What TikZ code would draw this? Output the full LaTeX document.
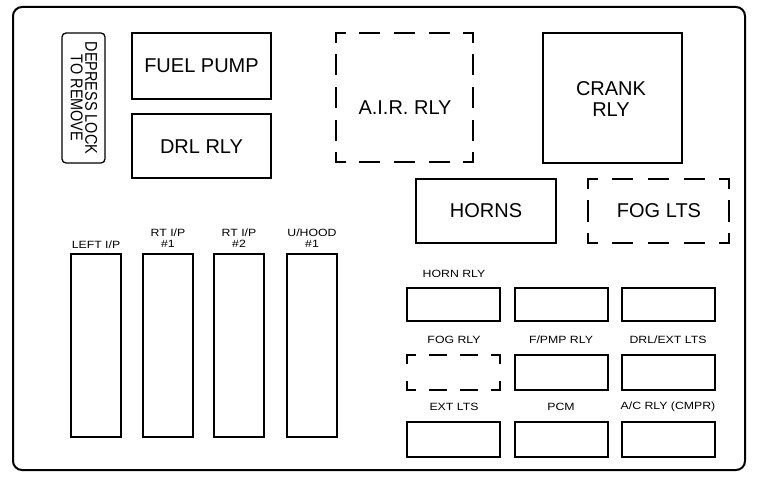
\documentclass[tikz,border=0pt]{standalone}
\usepackage{fontspec}
\setmainfont{Liberation Sans}
\newfontfamily\tagfont[FakeStretch=1.17]{Liberation Sans}
\newfontfamily\lockfont[FakeStretch=0.85]{Liberation Sans}
\tikzset{
  frame/.style={line width=2pt, rounded corners=9pt},
  relay/.style={line width=1.3pt},
  fuse/.style={line width=1.7pt},
  relaydash/.style n args={3}{line width=1.3pt, line cap=rect, dash pattern=on #1pt off #2pt, dash phase=#3pt},
  biglbl/.style={font=\fontsize{20}{21}\selectfont, align=center, inner sep=0pt},
  tag/.style={font=\tagfont\fontsize{10.5}{10.5}\selectfont, align=center, inner sep=0pt},
}

\begin{document}
\begin{tikzpicture}[x=1pt, y=-1pt]
			%%%%% START %%%%%
			\useasboundingbox (0,0) rectangle (763,492);
			
			\draw[frame] (13,7) rectangle (745,470);
			
			\draw[relay, rounded corners=4pt] (62,33) rectangle (105,163);
			\node[rotate=-90, font=\lockfont\fontsize{17}{14.5}\selectfont, align=center, inner sep=0pt] (lock) at (84,98) {DEPRESS LOCK\\TO REMOVE};
			
			\draw[relay] (132,33) rectangle (271,99);
			\node[biglbl] (fuelpump) at (201.5,66) {FUEL PUMP};
			
			\draw[relay] (132,114) rectangle (271,178);
			\node[biglbl] (drlrly) at (201.5,147) {DRL RLY};
			
			\draw[relaydash={20}{14.75}{11}] (336,33) -- (473,33) (336,162) -- (473,162);
			\draw[relaydash={20}{12.75}{11}] (336,33) -- (336,162) (473,33) -- (473,162);
			\node[biglbl] (airrly) at (405,108) {A.I.R. RLY};
			
			\draw[relay] (543,33) rectangle (682,163);
			\node[biglbl] (crankrly) at (611,99.5) {CRANK\\RLY};
			
			\draw[relay] (416,179) rectangle (556,243);
			\node[biglbl] (horns) at (486,211) {HORNS};
			
			\draw[relaydash={20}{15.75}{11}] (588,179) -- (729,179) (588,243) -- (729,243);
			\draw[relaydash={20}{13}{11}] (588,179) -- (588,243) (729,179) -- (729,243);
			\node[biglbl] (foglts) at (659,211) {FOG LTS};
			
			% fuse blocks
			\foreach \x in {71,143,214,287}
				\draw[fuse] (\x,254) rectangle +(50,183);
			\node[tag] (leftip) at (96,245) {LEFT I/P};
			\node[tag] (rtip1) at (168,238) {RT I/P\\\#1};
			\node[tag] (rtip2) at (239,238) {RT I/P\\\#2};
			\node[tag] (uhood1) at (312,238) {U/HOOD\\\#1};
			
			% relay rows
			\foreach \x in {407,515,622}
				\draw[relay] (\x,288) rectangle +(93,33);
			\foreach \x in {515,622}
				\draw[relay] (\x,355) rectangle +(93,35);
			\draw[relaydash={16}{15}{8}] (407,355) -- (500,355) (407,390) -- (500,390);
			\draw[relaydash={16}{19}{8}] (407,355) -- (407,390) (500,355) -- (500,390);
			\foreach \x in {407,515,622} {
				\draw[relay] (\x,422) rectangle +(93,35);
				\draw[line width=2.6pt] (\x,422) -- +(93,0);
			}
			
			\node[tag] (hornrly) at (454,273.5) {HORN RLY};
			\node[tag] (fogrly) at (454,339.5) {FOG RLY};
			\node[tag] (fpmprly) at (561,339.5) {F/PMP RLY};
			\node[tag] (drlext) at (668,339.5) {DRL/EXT LTS};
			\node[tag] (extlts) at (454,406.5) {EXT LTS};
			\node[tag] (pcm) at (561,406.5) {PCM};
			\node[tag] (acrly) at (668,406.5) {A/C RLY (CMPR)};
			
			%%%%% END %%%%%
\end{tikzpicture}
\end{document}
